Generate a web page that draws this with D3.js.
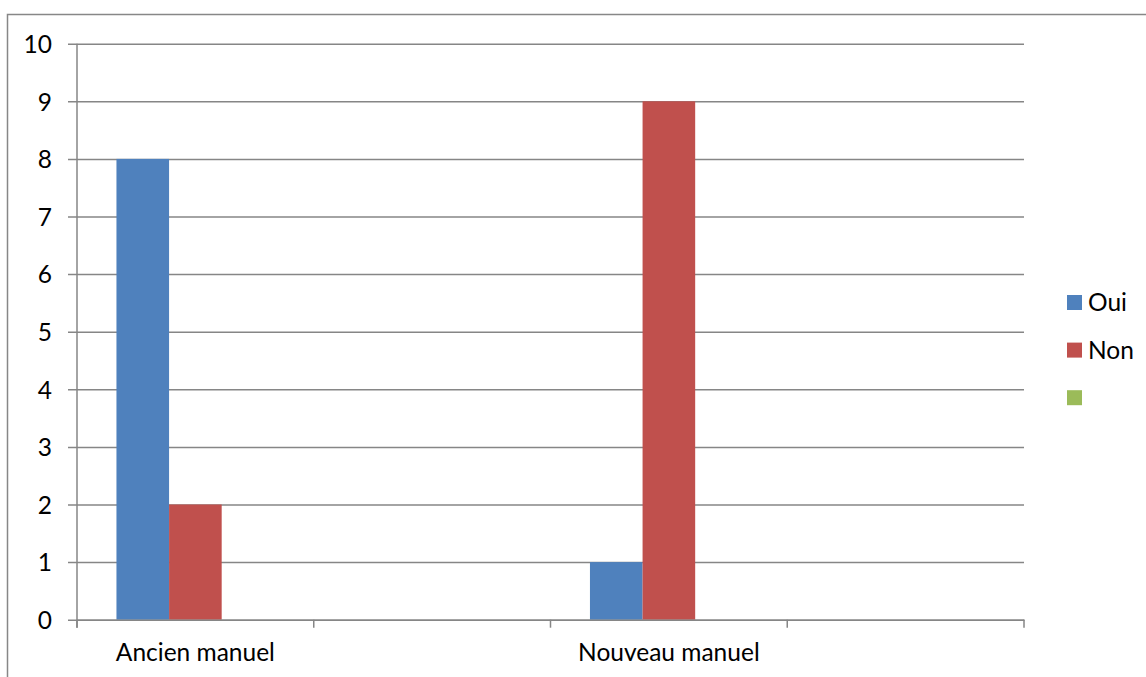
<!DOCTYPE html>
<html>
<head>
<meta charset="utf-8">
<script src="https://cdn.jsdelivr.net/npm/d3@7"></script>
<style>
  html, body { margin: 0; padding: 0; background: #fff; }
  svg { display: block; }
  text { font-family: Lato, "Open Sans", sans-serif; fill: #000; }
</style>
</head>
<body>
<svg id="chart" width="1146" height="677"></svg>
<script>
// Categories along the x axis (two unlabeled slots)
const categories = ["Ancien manuel", "", "Nouveau manuel", ""];
// Series values per category
const oui = [8, null, 1, null];
const non = [2, null, 9, null];
const third = [null, null, null, null];
const seriesNames = ["Oui", "Non", ""];
const seriesColors = ["#4F81BD", "#C0504D", "#9BBB59"];
const yTicks = [0, 1, 2, 3, 4, 5, 6, 7, 8, 9, 10];

const series = [oui, non, third];
const FONT = "24.5px";

const svg = d3.select("#chart");

// Outer chart frame (runs off the right and bottom edges)
svg.append("rect")
  .attr("x", 7.5).attr("y", 14.5)
  .attr("width", 1200).attr("height", 700)
  .attr("fill", "#fff")
  .attr("stroke", "#878787")
  .attr("stroke-width", 1.5);

const plot = { left: 77, right: 1024, top: 43.7, bottom: 619.7 };

const x = d3.scaleBand()
  .domain(d3.range(categories.length))
  .range([plot.left, plot.right])
  .paddingInner(0).paddingOuter(0);

const y = d3.scaleLinear()
  .domain([0, 10])
  .range([plot.bottom, plot.top]);

// Bars within a category: gap width 150% of a bar
const barW = x.bandwidth() / (series.length + 1.5);
const inner = d3.scaleBand()
  .domain(d3.range(series.length))
  .range([barW * 0.75, barW * 0.75 + barW * series.length])
  .padding(0);

// Horizontal gridlines with ticks extending left of the axis
const span = plot.right - plot.left + 9;
const yAxis = d3.axisLeft(y)
  .tickValues(yTicks)
  .tickSize(-span)
  .tickFormat(d3.format("d"));

const gy = svg.append("g")
  .attr("transform", `translate(${plot.right},0)`)
  .call(yAxis);
gy.select(".domain").remove();
gy.selectAll(".tick line")
  .attr("x1", 0)
  .attr("x2", -span)
  .attr("stroke", "#868686")
  .attr("stroke-width", 1.5);
gy.selectAll(".tick text")
  .attr("x", -span - 16)
  .attr("text-anchor", "end")
  .style("font-family", "Lato, 'Open Sans', sans-serif")
  .style("font-size", FONT)
  .attr("dy", "0.36em")
  .attr("fill", "#000");

// Bars
series.forEach((vals, si) => {
  svg.append("g")
    .selectAll("rect")
    .data(vals.map((v, i) => ({ v, i })).filter(d => d.v != null))
    .join("rect")
    .attr("x", d => x(d.i) + inner(si))
    .attr("y", d => y(d.v))
    .attr("width", inner.bandwidth())
    .attr("height", d => y(0) - y(d.v))
    .attr("fill", seriesColors[si]);
});

// Vertical axis line
svg.append("line")
  .attr("x1", plot.left).attr("x2", plot.left)
  .attr("y1", plot.top).attr("y2", plot.bottom + 8)
  .attr("stroke", "#868686").attr("stroke-width", 1.5);

// Category axis
const xAxis = d3.axisBottom(x)
  .tickFormat(i => categories[i])
  .tickSize(0)
  .tickPadding(24);
const gx = svg.append("g")
  .attr("transform", `translate(0,${plot.bottom})`)
  .call(xAxis);
gx.select(".domain")
  .attr("stroke", "#868686").attr("stroke-width", 1.5);
gx.selectAll(".tick text")
  .style("font-family", "Lato, 'Open Sans', sans-serif")
  .style("font-size", FONT)
  .attr("fill", "#000");

// Tick marks at category boundaries
const bounds = d3.range(categories.length + 1).map(i => plot.left + i * x.step());
svg.append("g").selectAll("line")
  .data(bounds)
  .join("line")
  .attr("x1", d => d).attr("x2", d => d)
  .attr("y1", plot.bottom).attr("y2", plot.bottom + 8)
  .attr("stroke", "#868686").attr("stroke-width", 1.5);

// Legend
const legend = svg.append("g").attr("transform", "translate(1067,295)");
seriesNames.forEach((name, i) => {
  const g = legend.append("g").attr("transform", `translate(0,${i * 47.6})`);
  g.append("rect").attr("width", 15).attr("height", 15).attr("fill", seriesColors[i]);
  g.append("text").attr("x", 21).attr("y", 7.5).attr("dy", "0.36em")
    .style("font-size", FONT).text(name);
});
</script>
</body>
</html>
